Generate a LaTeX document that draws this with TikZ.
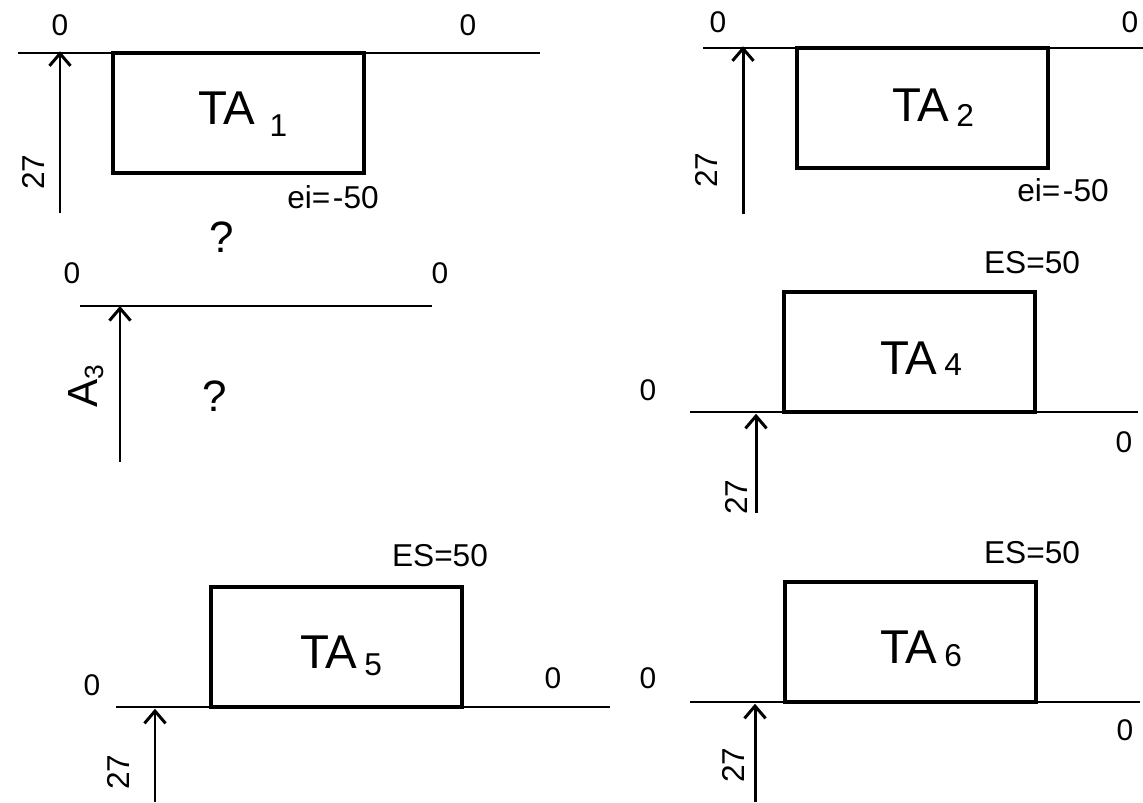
\documentclass[tikz,border=0pt]{standalone}
\usepackage{fontspec}
\setmainfont{Liberation Sans}
\usetikzlibrary{arrows.meta,positioning}

\tikzset{
  axisline/.style={line width=1.1pt},
  tolbox/.style={draw, line width=2pt, minimum width=5.02cm, minimum height=2.4cm, inner sep=0pt},
  talabel/.style={anchor=base west, inner sep=0pt, font=\fontsize{27}{31}\selectfont},
  dimarrow/.style={line width=1.7pt, -{Straight Barb[length=7pt,width=12pt,line width=1.7pt]}},
  zerolbl/.style={font=\fontsize{17}{20}\selectfont},
  dimlbl/.style={font=\fontsize{18}{21}\selectfont, rotate=90},
  devlbl/.style={font=\fontsize{18}{21}\selectfont},
  qmark/.style={font=\fontsize{25}{29}\selectfont},
}
% TA with a dropped index: {index}{drop}{gap}
\newcommand{\talbl}[3]{TA\hspace{#3}\raisebox{-#2}{\fontsize{18}{21}\selectfont #1}}

\begin{document}
\begin{tikzpicture}[x=0.02cm, y=-0.02cm]
    \useasboundingbox (0,0) rectangle (1143,802);

    % TA1, upper left
    \draw[axisline] (18,53) -- (540,53);
    \node[zerolbl] (z1a) at (60,25) {0};
    \node[zerolbl] (z1b) at (468,25) {0};
    \node[tolbox] (box1) at (238.5,113) {};
    \node[talabel] (t1) at (198,124) {\talbl{1}{0.5ex}{8pt}};
    \coordinate (a1) at (60,213);
    \draw[dimarrow] (a1) -- (a1 |- box1.north);
    \node[dimlbl] (d1) at (33,172) {27};
    \node[devlbl] (ei1) at (333,197) {ei=\kern1.5pt-50};
    \node[qmark] (q1) at (222,237) {?};

    % TA2, upper right
    \draw[axisline] (703,48) -- (1143,48);
    \node[zerolbl] (z2a) at (718,22) {0};
    \node[zerolbl] (z2b) at (1130,22) {0};
    \node[tolbox] (box2) at (922.5,108) {};
    \node[talabel] (t2) at (892,121) {\talbl{2}{0.2ex}{4pt}};
    \coordinate (a2) at (743,214);
    \draw[dimarrow] (a2) -- (a2 |- box2.north);
    \node[dimlbl] (d2) at (706,170) {27};
    \node[devlbl] (ei2) at (1063,190) {ei=\kern1.5pt-50};

    % A3, unknown
    \draw[axisline] (80,306) -- (432,306);
    \node[zerolbl] (z3a) at (72,273) {0};
    \node[zerolbl] (z3b) at (440,273) {0};
    \coordinate (top3) at (120,306);
    \coordinate (a3) at (120,462);
    \draw[dimarrow] (a3) -- (top3);
    \node[rotate=90, font=\fontsize{24}{28}\selectfont] (d3) at (86,386)
        {A\textsubscript{\fontsize{15}{17}\selectfont 3}};
    \node[qmark] (q3) at (215,396) {?};

    % TA4
    \draw[axisline] (690,412) -- (1138,412);
    \draw[line width=1.6pt] (728,412) -- (778,412);
    \node[zerolbl] (z4a) at (648,390) {0};
    \node[zerolbl] (z4b) at (1124,442) {0};
    \node[tolbox] (box4) at (909.5,352) {};
    \node[talabel] (t4) at (880,374) {\talbl{4}{0.05ex}{4pt}};
    \node[devlbl] (es4) at (1032,263) {ES=50};
    \coordinate (a4) at (756,513);
    \draw[dimarrow] (a4) -- (a4 |- box4.south);
    \node[dimlbl] (d4) at (736,497) {27};

    % TA5
    \draw[axisline] (116,707) -- (610,707);
    \draw[line width=1.6pt] (124,707) -- (157,707);
    \node[zerolbl] (z5a) at (92,685) {0};
    \node[zerolbl] (z5b) at (553,678) {0};
    \node[tolbox] (box5) at (336.5,647) {};
    \node[talabel] (t5) at (300,668) {\talbl{5}{0.3ex}{4pt}};
    \node[devlbl] (es5) at (440,556) {ES=50};
    \coordinate (a5) at (155,802);
    \draw[dimarrow] (a5) -- (a5 |- box5.south);
    \node[dimlbl] (d5) at (118,772) {27};

    % TA6
    \draw[axisline] (690,702) -- (1140,702);
    \draw[line width=1.6pt] (730,702) -- (777,702);
    \node[zerolbl] (z6a) at (648,678) {0};
    \node[zerolbl] (z6b) at (1125,730) {0};
    \node[tolbox] (box6) at (910.5,642) {};
    \node[talabel] (t6) at (880,663) {\talbl{6}{0.15ex}{4pt}};
    \node[devlbl] (es6) at (1032,553) {ES=50};
    \coordinate (a6) at (755,802);
    \draw[dimarrow] (a6) -- (a6 |- box6.south);
    \node[dimlbl] (d6) at (733,765) {27};
\end{tikzpicture}
\end{document}
